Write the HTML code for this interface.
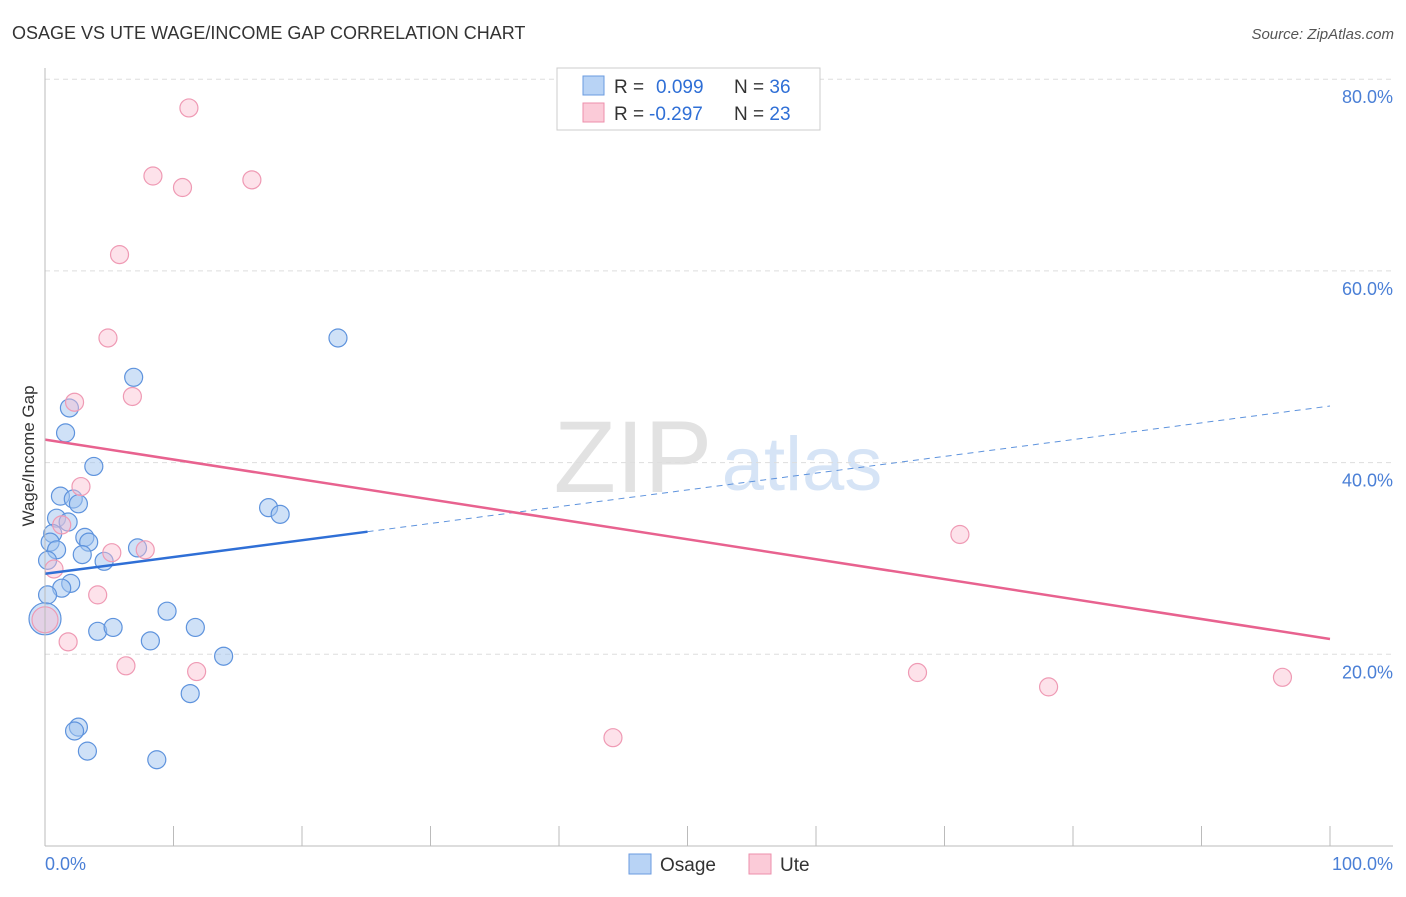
<!DOCTYPE html>
<html><head><meta charset="utf-8"><style>
body{margin:0;background:#fff;font-family:"Liberation Sans",sans-serif;}
svg text{font-family:"Liberation Sans",sans-serif;}
</style></head><body>
<svg id="c" width="1406" height="892">
<text x="12" y="39" font-size="18" fill="#333">OSAGE VS UTE WAGE/INCOME GAP CORRELATION CHART</text>
<text x="1394" y="39" font-size="15" fill="#555" font-style="italic" text-anchor="end">Source: ZipAtlas.com</text>
<text transform="translate(34,456) rotate(-90)" font-size="17" fill="#333" text-anchor="middle">Wage/Income Gap</text>
<g>
<text x="633" y="492" font-size="102" fill="#e2e2e2" font-family="Liberation Serif" text-anchor="middle">ZIP</text>
<text x="802" y="490" font-size="76" fill="#d6e4f6" text-anchor="middle">atlas</text>
</g>
<g id="grid"></g><g id="marks"></g>
<line x1="45" y1="68" x2="45" y2="846" stroke="#bbb"/>
<line x1="45" y1="846" x2="1393" y2="846" stroke="#bbb"/>
<text x="45" y="870" font-size="18" fill="#4a7fd6">0.0%</text>
<text x="1393" y="870" font-size="18" fill="#4a7fd6" text-anchor="end">100.0%</text>
<g>
<rect x="557" y="68" width="263" height="62" fill="#fff" stroke="#ccc"/>
<rect x="583" y="76" width="21" height="19" fill="#b8d3f5" stroke="#6a9be0"/>
<rect x="583" y="103" width="21" height="19" fill="#fbcbd8" stroke="#ee8fab"/>
<text x="614" y="93" font-size="19" fill="#333">R = <tspan fill="#2f6fd6" x="656">0.099</tspan><tspan x="734">N = </tspan><tspan fill="#2f6fd6">36</tspan></text>
<text x="614" y="120" font-size="19" fill="#333">R = <tspan fill="#2f6fd6" x="649">-0.297</tspan><tspan x="734">N = </tspan><tspan fill="#2f6fd6">23</tspan></text>
</g>
<g>
<rect x="629" y="854" width="22" height="20" fill="#b8d3f5" stroke="#6a9be0"/>
<text x="660" y="871" font-size="19" fill="#333">Osage</text>
<rect x="749" y="854" width="22" height="20" fill="#fbcbd8" stroke="#ee8fab"/>
<text x="780" y="871" font-size="19" fill="#333">Ute</text>
</g>
</svg>
<script>
const yTicks=[20,40,60,80];
const yTickLabels=["20.0%","40.0%","60.0%","80.0%"];
const osageX=[22.8,6.9,1.9,1.6,3.8,1.2,2.2,2.6,0.9,1.8,0.6,3.1,3.4,0.4,0.9,2.9,4.6,7.2,2.0,1.3,0.2,9.5,4.1,5.3,8.2,11.7,13.9,11.3,2.6,2.3,3.3,8.7,17.4,18.3,0.2,0.0];
const osageY=[53.0,48.9,45.7,43.1,39.6,36.5,36.2,35.7,34.2,33.8,32.6,32.2,31.7,31.7,30.9,30.4,29.7,31.1,27.4,26.9,26.2,24.5,22.4,22.8,21.4,22.8,19.8,15.9,12.4,12.0,9.9,9.0,35.3,34.6,29.8,23.7];
const osageR=[9,9,9,9,9,9,9,9,9,9,9,9,9,9,9,9,9,9,9,9,9,9,9,9,9,9,9,9,9,9,9,9,9,9,9,16];
const uteX=[11.2,8.4,10.7,16.1,5.8,4.9,6.8,2.3,2.8,1.3,5.2,7.8,0.7,4.1,1.8,6.3,11.8,0.0,44.2,71.2,67.9,78.1,96.3];
const uteY=[77.0,69.9,68.7,69.5,61.7,53.0,46.9,46.3,37.5,33.5,30.6,30.9,28.9,26.2,21.3,18.8,18.2,23.6,11.3,32.5,18.1,16.6,17.6];
const uteR=[9,9,9,9,9,9,9,9,9,9,9,9,9,9,9,9,9,13,9,9,9,9,9];
const osageTrend=[28.4,0.175];
const uteTrend=[42.4,-0.208];
const osageSolidEnd=25.1;
const sx=v=>45+v*12.85, sy=v=>846-v*9.585;
const NS="http://www.w3.org/2000/svg";
const g=document.getElementById('grid'), m=document.getElementById('marks');
function mk(t,a,p){const e=document.createElementNS(NS,t);for(const k in a)e.setAttribute(k,a[k]);p.appendChild(e);return e;}
yTicks.forEach((t,i)=>{
 const l=mk('line',{x1:45,x2:1393,y1:sy(t),y2:sy(t),stroke:'#ddd','stroke-dasharray':'5,4'},g);
 
 
 const tx=mk('text',{x:1393,y:sy(t)+24,'font-size':18,fill:'#4a7fd6','text-anchor':'end'},g);
 tx.textContent=yTickLabels[i];
 
 
});
for(let k=1;k<=10;k++){const l=mk('line',{x1:sx(k*10),x2:sx(k*10),y1:826,y2:846,stroke:'#bbb'},g);
 
 }
osageX.forEach((x,i)=>{const c=mk('circle',{cx:sx(x),cy:sy(osageY[i]),r:osageR[i],fill:'rgba(160,195,240,0.5)',stroke:'#5e93dd','stroke-width':1.2},m);
 
 });
uteX.forEach((x,i)=>{const c=mk('circle',{cx:sx(x),cy:sy(uteY[i]),r:uteR[i],fill:'rgba(250,190,208,0.45)',stroke:'#ef9ab4','stroke-width':1.2},m);
 
 });
const ot=x=>osageTrend[0]+osageTrend[1]*x, ut=x=>uteTrend[0]+uteTrend[1]*x;
let l1=mk('line',{x1:sx(0),y1:sy(ot(0)),x2:sx(osageSolidEnd),y2:sy(ot(osageSolidEnd)),stroke:'#2f6fd6','stroke-width':2.5},m);


let l2=mk('line',{x1:sx(osageSolidEnd),y1:sy(ot(osageSolidEnd)),x2:sx(100),y2:sy(ot(100)),stroke:'#5e93dd','stroke-width':1,'stroke-dasharray':'6,5'},m);


let l3=mk('line',{x1:sx(0),y1:sy(ut(0)),x2:sx(100),y2:sy(ut(100)),stroke:'#e8628f','stroke-width':2.5},m);


</script>
</body></html>
